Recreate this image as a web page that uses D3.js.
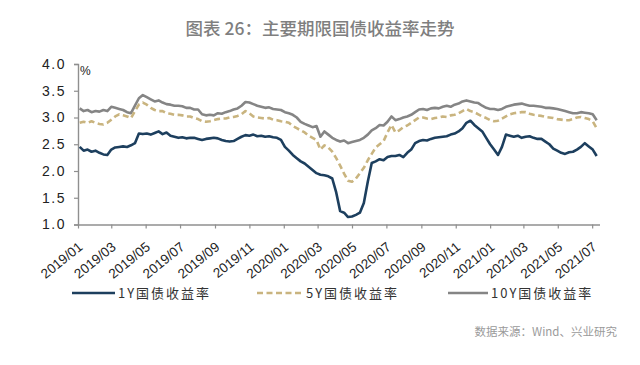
<!DOCTYPE html>
<html><head><meta charset="utf-8">
<script src="https://cdn.jsdelivr.net/npm/d3@7/dist/d3.min.js"></script>
<style>body{margin:0;background:#fff}svg{display:block}</style>
</head><body><svg id="c" width="640" height="365"></svg>
<script>
const title = "图表 26：主要期限国债收益率走势";
const source = "数据来源：Wind、兴业研究";
const seriesNames = ["1Y国债收益率","5Y国债收益率","10Y国债收益率"];
const startDate = "2019-01-04"; // weekly observations
const yTicks = [1.0,1.5,2.0,2.5,3.0,3.5,4.0];
const xTickLabels = ["2019/01","2019/03","2019/05","2019/07","2019/09","2019/11","2020/01","2020/03","2020/05","2020/07","2020/09","2020/11","2021/01","2021/03","2021/05","2021/07"];

const y1 = [2.45,2.38,2.40,2.36,2.38,2.34,2.31,2.30,2.40,2.44,
2.45,2.46,2.45,2.48,2.52,2.70,2.69,2.70,2.68,2.71,
2.74,2.69,2.72,2.66,2.64,2.62,2.63,2.61,2.62,2.62,
2.60,2.58,2.60,2.61,2.62,2.61,2.58,2.56,2.55,2.56,
2.60,2.64,2.67,2.66,2.68,2.65,2.66,2.64,2.65,2.63,
2.62,2.58,2.45,2.38,2.30,2.24,2.18,2.14,2.08,2.02,
1.96,1.93,1.92,1.90,1.86,1.60,1.25,1.22,1.14,1.15,
1.18,1.22,1.40,1.80,2.15,2.18,2.22,2.20,2.26,2.28,
2.28,2.30,2.26,2.34,2.40,2.52,2.56,2.58,2.57,2.60,
2.62,2.63,2.64,2.65,2.68,2.70,2.74,2.80,2.90,2.94,
2.86,2.80,2.74,2.62,2.50,2.40,2.30,2.45,2.68,2.66,
2.64,2.66,2.62,2.64,2.65,2.62,2.60,2.60,2.55,2.50,
2.42,2.38,2.34,2.32,2.35,2.36,2.40,2.45,2.52,2.46,
2.40,2.28];
const y5 = [2.90,2.92,2.90,2.93,2.90,2.88,2.87,2.90,2.96,3.02,
3.06,3.04,3.02,2.99,3.12,3.24,3.28,3.24,3.18,3.14,
3.12,3.12,3.08,3.07,3.05,3.05,3.04,3.02,3.02,2.99,
2.97,2.93,2.92,2.93,2.95,2.97,2.98,2.98,3.00,3.01,
3.03,3.06,3.12,3.08,3.02,3.00,2.99,2.98,2.99,2.96,
2.95,2.93,2.92,2.90,2.84,2.80,2.76,2.72,2.66,2.62,
2.58,2.40,2.48,2.44,2.36,2.24,2.10,1.95,1.82,1.80,
1.86,1.96,2.06,2.20,2.32,2.44,2.50,2.56,2.72,2.86,
2.72,2.76,2.82,2.85,2.90,2.95,3.00,3.00,2.98,2.97,
2.99,3.00,3.02,3.01,3.04,3.05,3.08,3.12,3.16,3.12,
3.10,3.06,3.02,2.99,2.95,2.93,2.94,2.98,3.02,3.06,
3.08,3.09,3.10,3.10,3.07,3.05,3.04,3.03,3.01,3.00,
2.99,2.97,2.96,2.95,2.95,2.97,3.00,3.01,2.99,2.97,
2.93,2.80];
const y10 = [3.17,3.12,3.14,3.10,3.12,3.11,3.14,3.12,3.20,3.18,
3.16,3.14,3.10,3.08,3.22,3.36,3.42,3.38,3.34,3.30,
3.32,3.28,3.25,3.24,3.22,3.22,3.21,3.18,3.18,3.15,
3.15,3.06,3.04,3.05,3.04,3.08,3.07,3.10,3.12,3.15,
3.17,3.22,3.29,3.28,3.25,3.22,3.20,3.18,3.19,3.16,
3.15,3.14,3.10,3.08,3.05,3.00,2.92,2.88,2.85,2.82,
2.84,2.64,2.74,2.68,2.62,2.58,2.55,2.57,2.52,2.54,
2.56,2.58,2.62,2.68,2.76,2.80,2.86,2.85,2.92,3.02,
2.95,2.97,3.00,3.02,3.05,3.10,3.15,3.16,3.14,3.17,
3.18,3.17,3.20,3.22,3.20,3.24,3.26,3.30,3.32,3.30,
3.28,3.27,3.22,3.18,3.16,3.16,3.14,3.16,3.20,3.22,
3.24,3.25,3.26,3.24,3.22,3.22,3.21,3.20,3.18,3.18,
3.17,3.16,3.14,3.12,3.10,3.08,3.08,3.10,3.09,3.08,
3.06,2.95];

const colors = ["#1d3f5e","#c9b47f","#858585"];

const svg = d3.select("#c");
const parse = d3.timeParse("%Y-%m-%d");
const t0 = parse(startDate);
const dates = y1.map((_, i) => d3.timeDay.offset(t0, 7 * i));

const x = d3.scaleTime().domain([parse("2019-01-01"), parse("2021-07-14")]).range([78, 599.5]);
const y = d3.scaleLinear().domain([1, 4]).range([224.5, 64]);

const axisColor = "#8f8f8f";

// title
svg.append("text").attr("x", 320).attr("y", 35).attr("text-anchor", "middle")
  .attr("font-family", "'Noto Sans CJK SC'").attr("font-size", 17.5).attr("font-weight", 500)
  .attr("fill", "#7f7f7f").text(title);

// y axis
const ya = svg.append("g").attr("transform", "translate(78,0)")
  .call(d3.axisLeft(y).tickValues(yTicks).tickSize(4).tickPadding(8).tickFormat(d3.format(".1f")));
ya.select(".domain").attr("stroke", axisColor).attr("stroke-width", 1.4);
ya.selectAll(".tick line").attr("stroke", axisColor).attr("stroke-width", 1.2);
ya.selectAll(".tick text").attr("font-family", "'Liberation Sans', Arial").attr("font-size", 14)
  .attr("letter-spacing", 1.5).attr("fill", "#222");

svg.append("text").attr("x", 80).attr("y", 75).attr("font-family", "'Liberation Sans', Arial")
  .attr("font-size", 12).attr("fill", "#222").text("%");

// x axis
const xTickDates = xTickLabels.map(s => d3.timeParse("%Y/%m")(s));
const xa = svg.append("g").attr("transform", "translate(0,224.5)")
  .call(d3.axisBottom(x).tickValues(xTickDates).tickSize(4).tickSizeOuter(0).tickFormat((d, i) => xTickLabels[i]));
xa.select(".domain").attr("stroke", axisColor).attr("stroke-width", 1.4);
xa.selectAll(".tick line").attr("stroke", axisColor).attr("stroke-width", 1.2);
xa.selectAll(".tick text").attr("font-family", "'Liberation Sans', Arial").attr("font-size", 13.5)
  .attr("fill", "#222").attr("text-anchor", "end").attr("x", 0).attr("y", 0).attr("dy", 0)
  .attr("transform", "translate(5,24) rotate(-39)");

// lines
const line = d3.line().x((d, i) => x(dates[i])).y(d => y(d)).curve(d3.curveLinear);
const data = [y10, y5, y1];
const cols = [colors[2], colors[1], colors[0]];
const dashes = [null, "6,3.5", null];
data.forEach((s, k) => {
  svg.append("path").datum(s).attr("d", line).attr("fill", "none")
    .attr("stroke", cols[k]).attr("stroke-width", 2.6).attr("stroke-linejoin", "round")
    .attr("stroke-dasharray", dashes[k]);
});

// legend
const legend = [
  {x1: 72, x2: 115, tx: 118},
  {x1: 257, x2: 304, tx: 306},
  {x1: 448, x2: 488, tx: 491}
];
legend.forEach((l, i) => {
  svg.append("line").attr("x1", l.x1).attr("x2", l.x2).attr("y1", 293).attr("y2", 293)
    .attr("stroke", colors[i]).attr("stroke-width", 2.6).attr("stroke-dasharray", i === 1 ? "6,3.5" : null);
  svg.append("text").attr("x", l.tx).attr("y", 298).attr("font-family", "'Noto Sans CJK SC'")
    .attr("font-size", 13).attr("letter-spacing", 2).attr("fill", "#333").text(seriesNames[i]);
});

// source
svg.append("text").attr("x", 617).attr("y", 336).attr("text-anchor", "end")
  .attr("font-family", "'Noto Sans CJK SC'").attr("font-size", 11.5).attr("fill", "#9a9a9a").text(source);
</script></body></html>
